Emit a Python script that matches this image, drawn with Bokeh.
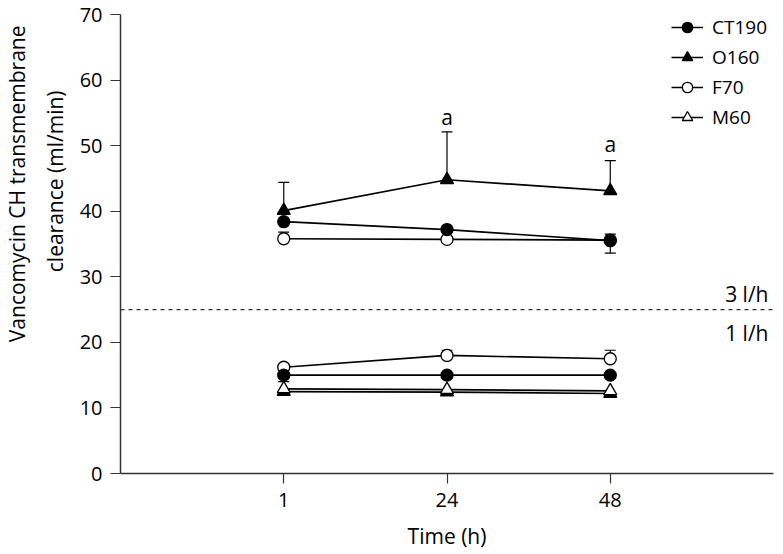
from bokeh.plotting import figure
from bokeh.models import ColumnDataSource, Whisker, Span, Label, Legend, LegendItem, FixedTicker, TeeHead, Title
from bokeh.core.properties import value
from bokeh.embed import file_html
from bokeh.resources import INLINE

FONT = "Open Sans"

times = ["1", "24", "48"]

# 3 l/h group
ct190_3 = [38.4, 37.2, 35.5]
o160_3 = [40.1, 44.8, 43.1]
f70_3 = [35.8, 35.7, 35.6]
# 1 l/h group
ct190_1 = [15.0, 15.0, 15.0]
o160_1 = [12.5, 12.4, 12.2]
f70_1 = [16.2, 18.0, 17.5]
m60_1 = [12.9, 12.8, 12.6]

# error bar ends (None = no bar)
o160_3_up = [44.4, 52.1, 47.7]
ct190_3_up = [None, None, 36.5]
ct190_3_lo = [None, None, 33.6]
f70_3_up = [36.8, None, None]
f70_1_up = [None, 18.8, 18.8]
ct190_1_lo = [14.0, None, None]

ann_text = ["a", "a"]
ann_times = ["24", "48"]
ann_y = [54.4, 50.3]

y_title_lines = ["Vancomycin CH transmembrane", "clearance (ml/min)"]
x_title = "Time (h)"

xpos = {t: i + 1 for i, t in enumerate(times)}
xs = [xpos[t] for t in times]

p = figure(width=783, height=554, x_range=(0, len(times) + 1), y_range=(0, 70),
           output_backend="svg", toolbar_location=None,
           min_border_left=120, min_border_right=10, min_border_top=14, min_border_bottom=81)
p.outline_line_color = None
p.grid.visible = False
p.background_fill_color = "white"

for ax in (p.xaxis[0], p.yaxis[0]):
    ax.axis_line_color = "#333333"
    ax.axis_line_width = 1.5
    ax.major_tick_line_color = "#333333"
    ax.major_tick_line_width = 1.2
    ax.major_tick_out = 10
    ax.major_tick_in = 0
    ax.minor_tick_line_color = None
    ax.major_label_text_font = FONT
    ax.major_label_text_font_size = "20px"
    ax.major_label_text_color = "black"
    ax.axis_label_text_font = FONT
    ax.axis_label_text_font_size = "21px"
    ax.axis_label_text_font_style = "normal"
    ax.axis_label_text_color = "black"

p.xaxis.ticker = FixedTicker(ticks=xs)
p.xaxis.major_label_overrides = {xpos[t]: t for t in times}
p.xaxis.axis_label = x_title
p.xaxis.major_label_standoff = 9
p.xaxis.axis_label_standoff = 12
p.yaxis.ticker = FixedTicker(ticks=list(range(0, 71, 10)))
p.yaxis.major_label_standoff = 8

# y-axis title, two lines, placed off-centre as in the original figure
# (inner line first so it sits next to the axis)
p.add_layout(Title(text=y_title_lines[1], align="right", offset=76, standoff=16, text_font=FONT,
                   text_font_size="21px", text_font_style="normal", text_color="black"), "left")
p.add_layout(Title(text=y_title_lines[0], align="right", offset=11, standoff=0, text_font=FONT,
                   text_font_size="21px", text_font_style="normal", text_color="black"), "left")

# dashed separator
p.add_layout(Span(location=25, dimension="width", line_dash="4 4", line_color="#333333", line_width=1.2))
p.add_layout(Label(x=len(times) + 1, y=27.4, text="3 l/h", text_align="right", text_baseline="middle",
                   x_offset=-5, text_font=FONT, text_font_size="21px", text_color="black"))
p.add_layout(Label(x=len(times) + 1, y=21.5, text="1 l/h", text_align="right", text_baseline="middle",
                   x_offset=-5, text_font=FONT, text_font_size="21px", text_color="black"))


def whiskers(means, ends, up=True):
    data = dict(x=[], upper=[], lower=[])
    for x, m, e in zip(xs, means, ends):
        if e is None:
            continue
        data["x"].append(x)
        data["upper"].append(e if up else m)
        data["lower"].append(m if up else e)
    src = ColumnDataSource(data)
    head = TeeHead(size=11, line_color="black", line_width=1.2)
    w = Whisker(source=src, base="x", upper="upper", lower="lower", dimension="height",
                line_color="black", line_width=1.2, level="underlay",
                upper_head=head if up else None, lower_head=None if up else head)
    p.add_layout(w)


whiskers(o160_3, o160_3_up, True)
whiskers(ct190_3, ct190_3_up, True)
whiskers(ct190_3, ct190_3_lo, False)
whiskers(f70_3, f70_3_up, True)
whiskers(f70_1, f70_1_up, True)
whiskers(ct190_1, ct190_1_lo, False)

styles = {
    "F70": dict(marker="circle", fill="white", size=12),
    "O160": dict(marker="triangle", fill="black", size=13),
    "M60": dict(marker="triangle", fill="white", size=13),
    "CT190": dict(marker="circle", fill="black", size=12),
}

series = [
    ("F70", [f70_3, f70_1]),
    ("O160", [o160_3, o160_1]),
    ("M60", [m60_1]),
    ("CT190", [ct190_3, ct190_1]),
]

legend_renderers = {}
for name, groups in series:
    st = styles[name]
    for k, g in enumerate(groups):
        src = ColumnDataSource(dict(x=xs, y=g))
        l = p.line("x", "y", source=src, line_color="black", line_width=1.7)
        s = p.scatter("x", "y", source=src, marker=st["marker"], size=st["size"],
                      fill_color=st["fill"], line_color="black", line_width=1.3)
        if k == 0:
            legend_renderers[name] = [l, s]

ann_src = ColumnDataSource(dict(x=[xpos[t] for t in ann_times], y=ann_y, t=ann_text))
p.text("x", "y", text="t", source=ann_src, text_align="center", text_baseline="middle",
       text_font=value(FONT), text_font_size="21px", text_color="black")

order = ["CT190", "O160", "F70", "M60"]
legend = Legend(items=[LegendItem(label=n, renderers=legend_renderers[n]) for n in order],
                location=(551, 343), padding=0, margin=0, spacing=4, glyph_height=26, label_height=26,
                glyph_width=32, label_standoff=9, label_text_font=FONT, label_text_font_size="19px",
                label_text_color="black", border_line_color=None, background_fill_alpha=0)
p.add_layout(legend)

open("out.html", "w").write(file_html(p, INLINE))
